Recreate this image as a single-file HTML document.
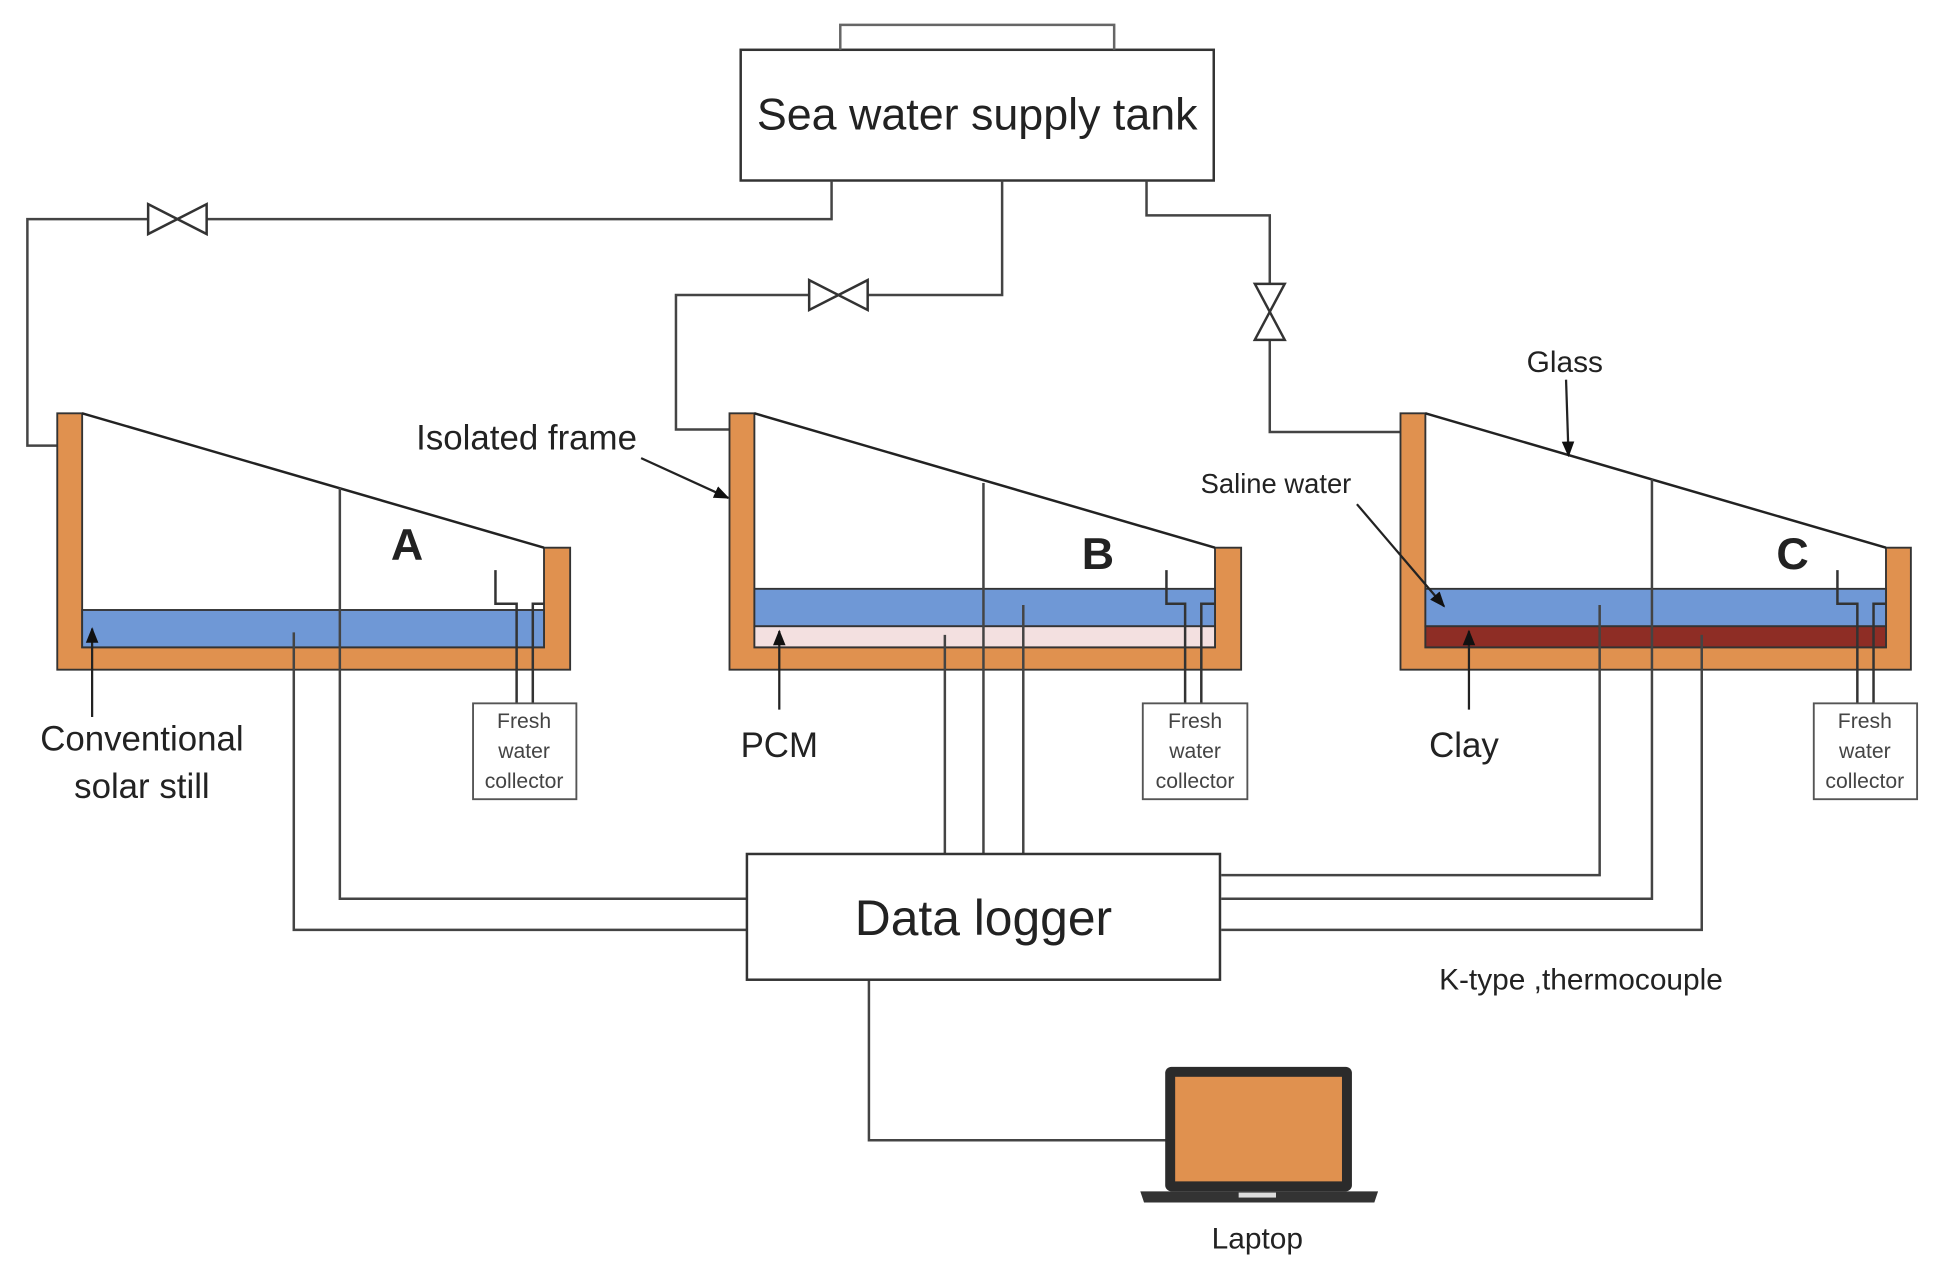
<!DOCTYPE html>
<html><head><style>html,body{margin:0;padding:0;background:#fff;}svg{display:block;}</style></head>
<body>
<svg width="1942" height="1273" viewBox="0 0 1560 1022.6" preserveAspectRatio="none" xmlns="http://www.w3.org/2000/svg" font-family="Liberation Sans, sans-serif">
<defs><marker id="ar" viewBox="0 0 10 10" refX="9" refY="5" markerWidth="7" markerHeight="7" orient="auto"><path d="M0,1 L10,5 L0,9 z" fill="#111"/></marker></defs>
<g fill="none" stroke="#444" stroke-width="2">
<!-- tank -->
<rect x="595" y="40" width="380" height="105" stroke="#333"/>
<polyline points="675,40 675,20 895,20 895,40" stroke="#666"/>
<polyline points="668,145 668,176 22,176 22,358 46,358"/>
<polyline points="805,145 805,237 543,237 543,345 586,345"/>
<polyline points="921,145 921,173 1020,173 1020,347 1125,347"/>
</g>
<!-- valves -->
<g fill="#fff" stroke="#333" stroke-width="2">
<path d="M119,164 L166,188 L166,164 L119,188 Z"/>
<path d="M650,225 L697,249 L697,225 L650,249 Z"/>
<path d="M1008,228 L1032,273 L1008,273 L1032,228 Z"/>
</g>
<!-- still A -->
<g stroke="#333" stroke-width="1.5">
<path d="M46,332 L66,332 L66,520 L437,520 L437,440 L458,440 L458,538 L46,538 Z" fill="#e0914f"/>
<rect x="66" y="490" width="371" height="30" fill="#6f98d6"/>
<line x1="66" y1="332" x2="437" y2="440" stroke="#222" stroke-width="2"/>
</g>
<!-- still B -->
<g stroke="#333" stroke-width="1.5">
<path d="M586,332 L606,332 L606,520 L976,520 L976,440 L997,440 L997,538 L586,538 Z" fill="#e0914f"/>
<rect x="606" y="503" width="370" height="17" fill="#f3e0e0"/>
<rect x="606" y="473" width="370" height="30" fill="#6f98d6"/>
<line x1="606" y1="332" x2="976" y2="440" stroke="#222" stroke-width="2"/>
</g>
<!-- still C -->
<g stroke="#333" stroke-width="1.5">
<path d="M1125,332 L1145,332 L1145,520 L1515,520 L1515,440 L1535,440 L1535,538 L1125,538 Z" fill="#e0914f"/>
<rect x="1145" y="503" width="370" height="17" fill="#8e2d25"/>
<rect x="1145" y="473" width="370" height="30" fill="#6f98d6"/>
<line x1="1145" y1="332" x2="1515" y2="440" stroke="#222" stroke-width="2"/>
</g>
<!-- collectors -->
<g fill="none" stroke="#333" stroke-width="2">
<polyline points="398,458 398,485 415,485 415,565"/><polyline points="428,565 428,485 437,485" />
<polyline points="937,458 937,485 952,485 952,565"/><polyline points="965,565 965,485 976,485"/>
<polyline points="1476,458 1476,485 1492,485 1492,565"/><polyline points="1505,565 1505,485 1515,485"/>
</g>
<g fill="#fff" stroke="#555" stroke-width="1.5">
<rect x="380" y="565" width="83" height="77"/>
<rect x="918" y="565" width="84" height="77"/>
<rect x="1457" y="565" width="83" height="77"/>
</g>
<g font-size="17" fill="#444" text-anchor="middle">
<text x="421" y="585">Fresh</text><text x="421" y="609">water</text><text x="421" y="633">collector</text>
<text x="960" y="585">Fresh</text><text x="960" y="609">water</text><text x="960" y="633">collector</text>
<text x="1498" y="585">Fresh</text><text x="1498" y="609">water</text><text x="1498" y="633">collector</text>
</g>
<!-- thermocouples -->
<g fill="none" stroke="#444" stroke-width="2">
<polyline points="273,392 273,722 600,722"/>
<polyline points="236,508 236,747 600,747"/>
<line x1="759" y1="510" x2="759" y2="686"/>
<line x1="790" y1="388" x2="790" y2="686"/>
<line x1="822" y1="486" x2="822" y2="686"/>
<polyline points="1285,486 1285,703 981,703"/>
<polyline points="1327,385 1327,722 981,722"/>
<polyline points="1367,510 1367,747 981,747"/>
<polyline points="698,787 698,916 937,916"/>
</g>
<rect x="600" y="686" width="380" height="101" fill="#fff" stroke="#333" stroke-width="2"/>
<!-- label arrows -->
<g stroke="#222" stroke-width="1.8" marker-end="url(#ar)">
<line x1="74" y1="576" x2="74" y2="505"/>
<line x1="626" y1="570" x2="626" y2="507"/>
<line x1="1180" y1="570" x2="1180" y2="507"/>
<line x1="515" y1="368" x2="585" y2="400"/>
<line x1="1090" y1="405" x2="1160" y2="487"/>
<line x1="1258" y1="305" x2="1260" y2="366"/>
</g>
<!-- laptop -->
<rect x="936" y="857" width="150" height="100" rx="5" fill="#2b2b2b"/>
<rect x="944" y="865" width="134" height="84" fill="#e0914f"/>
<path d="M916,957 L1107,957 L1104,966 L919,966 Z" fill="#333"/>
<rect x="995" y="958" width="30" height="4" fill="#ddd"/>
<!-- text -->
<g fill="#222">
<text x="785" y="104" font-size="36" text-anchor="middle">Sea water supply tank</text>
<text x="790" y="751" font-size="40" text-anchor="middle">Data logger</text>
<text x="327" y="450" font-size="36" font-weight="bold" text-anchor="middle">A</text>
<text x="882" y="457" font-size="36" font-weight="bold" text-anchor="middle">B</text>
<text x="1440" y="457" font-size="36" font-weight="bold" text-anchor="middle">C</text>
<text x="114" y="603" font-size="28" text-anchor="middle">Conventional</text>
<text x="114" y="641" font-size="28" text-anchor="middle">solar still</text>
<text x="423" y="361" font-size="28" text-anchor="middle">Isolated frame</text>
<text x="626" y="608" font-size="28" text-anchor="middle">PCM</text>
<text x="1176" y="608" font-size="28" text-anchor="middle">Clay</text>
<text x="1025" y="396" font-size="22" text-anchor="middle">Saline water</text>
<text x="1257" y="299" font-size="24" text-anchor="middle">Glass</text>
<text x="1270" y="795" font-size="24" text-anchor="middle">K-type ,thermocouple</text>
<text x="1010" y="1003" font-size="24" text-anchor="middle">Laptop</text>
</g>
</svg>
</body></html>
